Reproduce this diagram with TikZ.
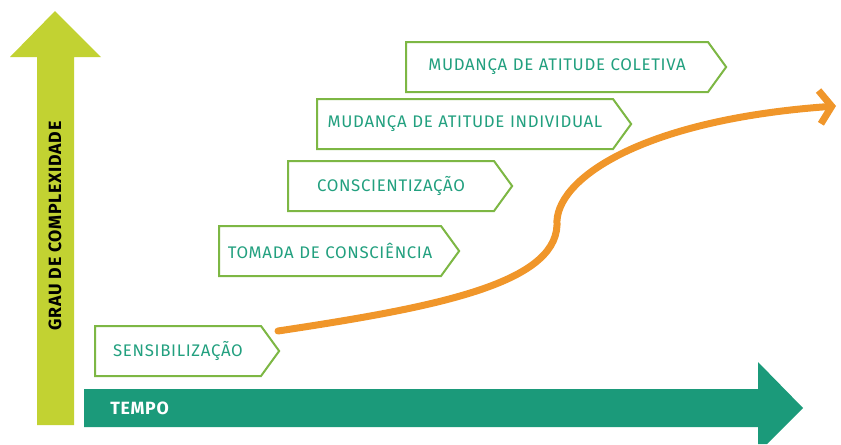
\documentclass[tikz,border=0pt]{standalone}
\usepackage{fontspec}
\setmainfont{Fira Sans}
\newfontfamily\etapafont[LetterSpace=4]{Fira Sans}
\newfontfamily\eixofont[LetterSpace=4]{Fira Sans}
\usetikzlibrary{shapes.symbols,arrows.meta}

\definecolor{grauyellow}{HTML}{C2D232}
\definecolor{tempogreen}{HTML}{1B9A7A}
\definecolor{boxgreen}{HTML}{7DB744}
\definecolor{labelgreen}{HTML}{22A07F}
\definecolor{curveorange}{HTML}{F0962A}

\tikzset{
  etapa/.style={shape=signal, signal to=east, signal from=nowhere,
    signal pointer angle=108, draw=boxgreen, line width=1.5pt, fill=white,
    text=labelgreen, inner xsep=0pt, inner ysep=0pt, minimum height=37.5pt,
    align=center, anchor=west, font=\etapafont\fontsize{12.6}{13}\selectfont},
  eixo/.style={font=\eixofont\bfseries\fontsize{13.3}{14}\selectfont},
}

\begin{document}
\begin{tikzpicture}[x=0.75pt,y=-0.75pt]
    \useasboundingbox (0,0) rectangle (841,444);

    % eixos
    \fill[grauyellow] (37,425) -- (37,57) -- (10,57) -- (55,11) -- (101,57) -- (74,57) -- (74,425) -- cycle;
    \fill[tempogreen] (84,389) -- (758,389) -- (758,362) -- (803,408) -- (767,444) -- (758,444) -- (758,427) -- (84,427) -- cycle;
    \node[eixo, rotate=90, text=black] (grau) at (55,226) {GRAU DE COMPLEXIDADE};
    \node[eixo, anchor=west, text=white, inner sep=0pt] (tempo) at (110,408) {TEMPO};

    % etapas
    \node[etapa, text width=124.5pt] (sensibilizacao) at (94,351) {SENSIBILIZAÇÃO};
    \node[etapa, text width=166.5pt] (tomada) at (218,251) {TOMADA DE CONSCIÊNCIA};
    \node[etapa, text width=154.5pt] (conscientizacao) at (287,186) {CONSCIENTIZAÇÃO};
    \node[etapa, text width=222pt] (individual) at (316,124) {MUDANÇA DE ATITUDE INDIVIDUAL};
    \node[etapa, text width=226.5pt] (coletiva) at (405,67) {MUDANÇA DE ATITUDE COLETIVA};

    % curva
    \coordinate (inicio) at (278,331);
    \coordinate (fim) at (836,106);
    \draw[curveorange, line width=5.25pt, line cap=round, -{Straight Barb[length=9pt,width=25pt]}]
        (inicio) .. controls (430,308) and (555,285) .. (557,225)
        .. controls (554,180) and (640,120) .. (fim);
\end{tikzpicture}
\end{document}
